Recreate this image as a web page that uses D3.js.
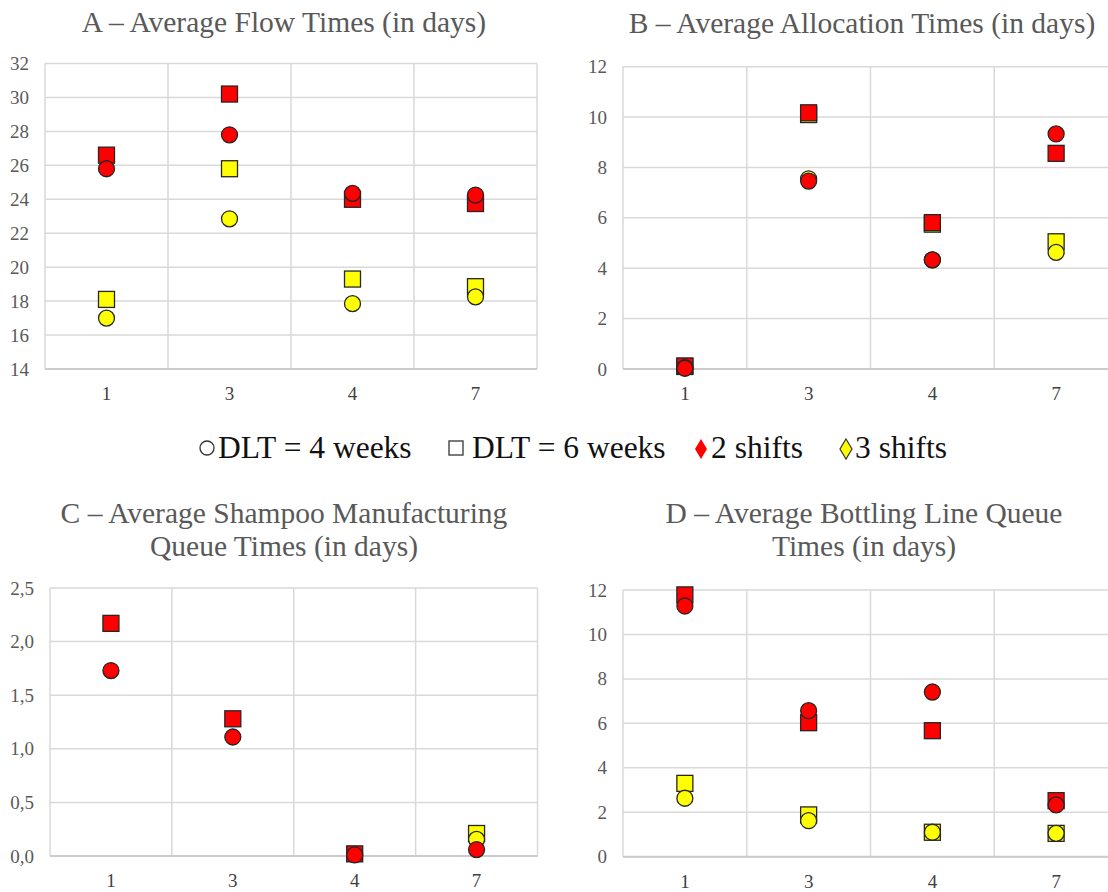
<!DOCTYPE html>
<html>
<head>
<meta charset="utf-8">
<script src="https://cdn.jsdelivr.net/npm/d3@7"></script>
<style>
  body { margin: 0; background: #fff; }
  svg { display: block; font-family: "Liberation Serif", "Times New Roman", serif; }
</style>
</head>
<body>
<svg id="chart" width="1108" height="892"></svg>
<script>
// x categories shared by all four panels
var categories = ["1", "3", "4", "7"];

// A - average flow times (days)
var flowDlt4Shift2 = [25.8, 27.8, 24.35, 24.25];
var flowDlt6Shift2 = [26.6, 30.2, 24.0, 23.75];
var flowDlt4Shift3 = [17.0, 22.85, 17.85, 18.25];
var flowDlt6Shift3 = [18.1, 25.8, 19.3, 18.85];
var flowTicks = [14, 16, 18, 20, 22, 24, 26, 28, 30, 32];

// B - average allocation times (days)
var allocDlt4Shift2 = [0.03, 7.46, 4.33, 9.33];
var allocDlt6Shift2 = [0.12, 10.17, 5.81, 8.56];
var allocDlt4Shift3 = [0.05, 7.55, 4.33, 4.63];
var allocDlt6Shift3 = [0.1, 10.1, 5.75, 5.05];
var allocTicks = [0, 2, 4, 6, 8, 10, 12];

// C - average shampoo manufacturing queue times (days)
var shampooDlt4Shift2 = [1.73, 1.11, 0.01, 0.06];
var shampooDlt6Shift2 = [2.17, 1.28, 0.02, null];
var shampooDlt4Shift3 = [null, null, null, 0.155];
var shampooDlt6Shift3 = [null, null, null, 0.21];
var shampooTicks = [0, 0.5, 1.0, 1.5, 2.0, 2.5];

// D - average bottling line queue times (days)
var bottleDlt4Shift2 = [11.28, 6.57, 7.41, 2.33];
var bottleDlt6Shift2 = [11.78, 6.03, 5.67, 2.52];
var bottleDlt4Shift3 = [2.63, 1.62, 1.1, 1.05];
var bottleDlt6Shift3 = [3.3, 1.88, 1.1, 1.05];
var bottleTicks = [0, 2, 4, 6, 8, 10, 12];

var legendLabels = ["DLT = 4 weeks", "DLT = 6 weeks", "2 shifts", "3 shifts"];

var RED = "#ff0000", YELLOW = "#ffff00", EDGE = "#262626", GRID = "#d9d9d9", GREY = "#595959";
var serif = '"Liberation Serif", "Times New Roman", serif';

var comma = d3.formatLocale({decimal: ",", thousands: ".", grouping: [3], currency: ["", ""]}).format(".1f");

var svg = d3.select("#chart");

var panels = [
    {title: ["A \u2013 Average Flow Times (in days)"], tx: 284, ty: 32,
     l: 45, r: 537, t: 63.5, b: 369, ticks: flowTicks, fmt: d3.format("d"),
     s: [flowDlt6Shift3, flowDlt6Shift2, flowDlt4Shift3, flowDlt4Shift2]},
    {title: ["B \u2013 Average Allocation Times (in days)"], tx: 862, ty: 33,
     l: 623, r: 1118, t: 66.7, b: 369, ticks: allocTicks, fmt: d3.format("d"),
     s: [allocDlt6Shift3, allocDlt6Shift2, allocDlt4Shift3, allocDlt4Shift2]},
    {title: ["C \u2013 Average Shampoo Manufacturing", "Queue Times (in days)"], tx: 284, ty: 523,
     l: 50, r: 537.5, t: 588, b: 856, ticks: shampooTicks, fmt: comma,
     s: [shampooDlt6Shift3, shampooDlt6Shift2, shampooDlt4Shift3, shampooDlt4Shift2]},
    {title: ["D \u2013 Average Bottling Line Queue", "Times (in days)"], tx: 864, ty: 523,
     l: 623, r: 1118, t: 590, b: 856.7, ticks: bottleTicks, fmt: d3.format("d"),
     s: [bottleDlt6Shift3, bottleDlt6Shift2, bottleDlt4Shift3, bottleDlt4Shift2]}
];

// drawing order: yellow squares, red squares, yellow circles, red circles
var styles = [
    {shape: "square", fill: YELLOW},
    {shape: "square", fill: RED},
    {shape: "circle", fill: YELLOW},
    {shape: "circle", fill: RED}
];

panels.forEach(function(p) {
    var g = svg.append("g");

    var x = d3.scaleBand().domain(categories).range([p.l, p.r]);
    var y = d3.scaleLinear().domain([p.ticks[0], p.ticks[p.ticks.length - 1]]).range([p.b, p.t]);

    // title
    g.append("text")
        .attr("x", p.tx).attr("y", p.ty)
        .attr("text-anchor", "middle")
        .attr("fill", GREY)
        .style("font-size", "29.5px")
        .selectAll("tspan")
        .data(p.title)
        .enter()
        .append("tspan")
            .attr("x", p.tx)
            .attr("dy", function(d, i) { return i ? 33 : 0; })
            .text(function(d) { return d; });

    // horizontal grid
    g.selectAll(".hgrid")
        .data(p.ticks)
        .enter()
        .append("line")
            .attr("x1", p.l).attr("x2", p.r)
            .attr("y1", function(d) { return y(d); })
            .attr("y2", function(d) { return y(d); })
            .attr("stroke", GRID)
            .attr("stroke-width", 1.5);

    // vertical grid on band edges
    var edges = categories.map(function(c) { return x(c); }).concat([p.r]);
    g.selectAll(".vgrid")
        .data(edges)
        .enter()
        .append("line")
            .attr("x1", function(d) { return d; })
            .attr("x2", function(d) { return d; })
            .attr("y1", p.t).attr("y2", p.b)
            .attr("stroke", GRID)
            .attr("stroke-width", 1.5);

    // bottom edge a touch darker
    g.append("line")
        .attr("x1", p.l).attr("x2", p.r)
        .attr("y1", p.b).attr("y2", p.b)
        .attr("stroke", "#cbcbcb")
        .attr("stroke-width", 2);

    // y axis labels
    g.append("g")
        .attr("transform", "translate(" + p.l + ",0)")
        .call(d3.axisLeft(y).tickValues(p.ticks).tickSize(0).tickPadding(16).tickFormat(p.fmt))
        .attr("font-family", serif)
        .attr("font-size", 19)
        .call(function(s) { s.select(".domain").remove(); })
        .selectAll("text").attr("fill", GREY);

    // x axis labels
    g.append("g")
        .attr("transform", "translate(0," + p.b + ")")
        .call(d3.axisBottom(x).tickSize(0).tickPadding(18))
        .attr("font-family", serif)
        .attr("font-size", 19)
        .call(function(s) { s.select(".domain").remove(); })
        .selectAll("text").attr("fill", "#404040");

    // markers
    p.s.forEach(function(vals, k) {
        var st = styles[k];
        var pts = categories.map(function(c, i) { return {c: c, v: vals[i]}; })
            .filter(function(d) { return d.v != null; });
        var cx = function(d) { return x(d.c) + x.bandwidth() / 2; };

        if (st.shape === "square") {
            g.selectAll(".sq" + k)
                .data(pts)
                .enter()
                .append("rect")
                    .attr("x", function(d) { return cx(d) - 8; })
                    .attr("y", function(d) { return y(d.v) - 8; })
                    .attr("width", 16).attr("height", 16)
                    .attr("fill", st.fill)
                    .attr("stroke", EDGE)
                    .attr("stroke-width", 1.3);
        } else {
            g.selectAll(".ci" + k)
                .data(pts)
                .enter()
                .append("circle")
                    .attr("cx", cx)
                    .attr("cy", function(d) { return y(d.v); })
                    .attr("r", 8)
                    .attr("fill", st.fill)
                    .attr("stroke", EDGE)
                    .attr("stroke-width", 1.3);
        }
    });
});

// legend
var lg = svg.append("g");
var ly = 448;
lg.append("circle").attr("cx", 207).attr("cy", ly).attr("r", 7)
    .attr("fill", "none").attr("stroke", "#333").attr("stroke-width", 1.3);
lg.append("rect").attr("x", 449).attr("y", ly - 7).attr("width", 14).attr("height", 14)
    .attr("fill", "none").attr("stroke", "#333").attr("stroke-width", 1.3);
lg.append("path").attr("d", "M701,439L707,449L701,459L695,449Z").attr("fill", RED);
lg.append("path").attr("d", "M846,439L852,449L846,459L840,449Z")
    .attr("fill", YELLOW).attr("stroke", "#333").attr("stroke-width", 1.2);

var legendX = [218, 472, 711, 855];
lg.selectAll(".lt")
    .data(legendLabels)
    .enter()
    .append("text")
        .attr("x", function(d, i) { return legendX[i]; })
        .attr("y", 458)
        .attr("fill", "#111")
        .style("font-size", "31.5px")
        .text(function(d) { return d; });
</script>
</body>
</html>
